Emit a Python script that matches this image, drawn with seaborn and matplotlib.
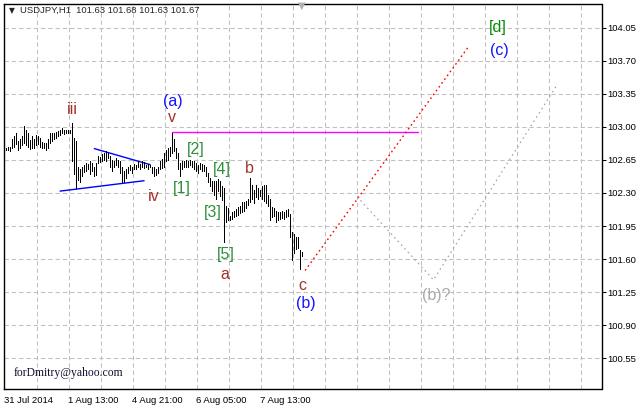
import pandas as pd
import matplotlib
matplotlib.use("Agg")
import matplotlib.pyplot as plt
import seaborn as sns

# USDJPY H1 bars (high / low)
highs = [102.78, 102.79, 102.79, 102.87, 102.90, 102.93, 102.85, 102.87, 102.90, 103.01,
         102.97, 102.93, 102.86, 102.90, 102.87, 102.91, 102.90, 102.88, 102.84, 102.83,
         102.83, 102.87, 102.94, 102.93, 102.94, 102.95, 102.96, 102.97, 102.99, 102.97,
         102.97, 102.97, 102.97, 103.04, 102.88, 102.85,
         102.57, 102.55, 102.58, 102.60, 102.62, 102.61, 102.64, 102.62, 102.58, 102.62,
         102.69, 102.68, 102.71, 102.72, 102.74, 102.72, 102.69, 102.65, 102.64, 102.67,
         102.65, 102.64, 102.58, 102.53, 102.55, 102.58, 102.60, 102.58, 102.61, 102.60,
         102.64, 102.61, 102.64, 102.63, 102.60, 102.61, 102.60, 102.57, 102.58,
         102.55, 102.58, 102.64, 102.66, 102.72, 102.76, 102.78, 102.79, 102.94, 102.87,
         102.78, 102.72, 102.62, 102.64, 102.64, 102.65, 102.64, 102.65, 102.64, 102.64,
         102.62, 102.60, 102.62, 102.61, 102.60, 102.58, 102.51, 102.46, 102.43, 102.43,
         102.43, 102.45, 102.43, 102.37, 102.35,
         102.16, 102.14,
         102.06, 102.10, 102.11, 102.13, 102.15, 102.16, 102.20, 102.21, 102.22, 102.24,
         102.46, 102.38, 102.33, 102.38, 102.35, 102.33, 102.37, 102.38, 102.38, 102.28,
         102.24, 102.15, 102.14, 102.11, 102.10, 102.10, 102.11, 102.10, 102.12, 102.13,
         102.08, 101.89, 101.87, 101.83, 101.83, 101.70, 101.68]
lows = [102.75, 102.76, 102.74, 102.78, 102.79, 102.82, 102.76, 102.78, 102.81, 102.83,
        102.81, 102.79, 102.77, 102.78, 102.78, 102.81, 102.82, 102.79, 102.78, 102.78,
        102.76, 102.78, 102.83, 102.85, 102.87, 102.88, 102.90, 102.91, 102.93, 102.92,
        102.93, 102.94, 102.93, 102.64, 102.50, 102.35,
        102.44, 102.42, 102.48, 102.52, 102.53, 102.55, 102.50, 102.53, 102.48, 102.49,
        102.62, 102.63, 102.64, 102.65, 102.64, 102.67, 102.57, 102.53, 102.57, 102.60,
        102.58, 102.51, 102.42, 102.42, 102.46, 102.51, 102.54, 102.51, 102.55, 102.55,
        102.57, 102.55, 102.58, 102.56, 102.58, 102.55, 102.57, 102.51, 102.48,
        102.49, 102.51, 102.55, 102.56, 102.58, 102.64, 102.65, 102.69, 102.72, 102.74,
        102.67, 102.55, 102.48, 102.55, 102.57, 102.58, 102.58, 102.60, 102.57, 102.55,
        102.53, 102.51, 102.55, 102.53, 102.53, 102.48, 102.42, 102.37, 102.32, 102.28,
        102.24, 102.32, 102.27, 102.23, 101.78,
        101.99, 102.01,
        102.01, 102.02, 102.05, 102.06, 102.07, 102.09, 102.10, 102.11, 102.14, 102.17,
        102.21, 102.24, 102.19, 102.26, 102.24, 102.27, 102.24, 102.22, 102.19, 102.16,
        102.01, 102.05, 102.06, 101.99, 102.01, 102.03, 102.04, 102.03, 102.05, 102.06,
        101.83, 101.59, 101.67, 101.71, 101.72, 101.50, 101.63]

price_ticks = [100.55, 100.90, 101.25, 101.60, 101.95, 102.30, 102.65, 103.00, 103.35, 103.70, 104.05]
time_ticks = [31, 63, 95, 127]
time_labels = ["1 Aug 13:00", "4 Aug 21:00", "6 Aug 05:00", "7 Aug 13:00"]
first_time_label = "31 Jul 2014"

# drawn objects (bar index, price)
level_line = {"i": [82.9, 205.9], "price": [102.95, 102.95]}
tri_upper = {"i": [44.0, 71.9], "price": [102.77, 102.60]}
tri_lower = {"i": [26.9, 68.9], "price": [102.32, 102.43]}
main_path = {"i": [149.4, 231.5], "price": [101.48, 103.86]}
alt_path = {"i": [175.4, 213.6, 274.9], "price": [102.26, 101.38, 103.43]}

# wave labels: text, bar index, price, colour
brown = "#a3302a"
blue = "#1414ff"
green = "#2f8f3a"
wave_labels = [
    ("iii", 32.9, 103.18, brown), ("(a)", 83.2, 103.27, blue), ("v", 83.0, 103.10, brown),
    ("iv", 73.9, 102.26, brown), ("[1]", 87.7, 102.35, green), ("[2]", 94.7, 102.76, green),
    ("[4]", 107.7, 102.55, green), ("[3]", 103.5, 102.09, green), ("[5]", 109.7, 101.65, green),
    ("a", 109.4, 101.44, brown), ("b", 121.5, 102.56, brown), ("c", 148.2, 101.32, brown),
    ("(b)", 149.9, 101.13, blue), ("(b)?", 215.2, 101.21, "#a8a8a8"),
    ("[d]", 246.0, 104.05, "#0a8a0a"), ("(c)", 246.4, 103.81, blue),
]

sns.set_style("white")
plt.rcParams['font.family'] = ['Liberation Sans', 'DejaVu Sans']

fig = plt.figure(figsize=(6.37, 4.05), dpi=100)
ax = fig.add_axes([4 / 637, 15.7 / 405, 597.5 / 637, 385.8 / 405])

# grid
for p in price_ticks:
    ax.axhline(p, color="#c0c0c0", lw=0.75, ls=(0, (4.2, 2.8)), zorder=0)
for k in range(18):
    ax.axvline(15.2 + 16 * k, color="#c0c0c0", lw=0.75, ls=(0, (4.2, 2.8)), zorder=0)

bars = pd.DataFrame({"i": range(len(highs)), "high": highs, "low": lows})
ax.vlines(bars["i"], bars["low"], bars["high"], color="black", lw=0.6,
          antialiased=False, zorder=3)

sns.lineplot(data=pd.DataFrame(level_line), x="i", y="price", color="#ff00ff", lw=1.0, ax=ax, zorder=2)
sns.lineplot(data=pd.DataFrame(tri_upper), x="i", y="price", color="#0000ff", lw=1.0, ax=ax, zorder=2)
sns.lineplot(data=pd.DataFrame(tri_lower), x="i", y="price", color="#0000ff", lw=1.0, ax=ax, zorder=2)
sns.lineplot(data=pd.DataFrame(main_path), x="i", y="price", sort=False, color="#ff0000",
             lw=1.0, linestyle=(0, (1.2, 2.2)), ax=ax, zorder=2)
sns.lineplot(data=pd.DataFrame(alt_path), x="i", y="price", sort=False, color="#a0a0a0",
             lw=0.9, linestyle=(0, (1.2, 2.8)), ax=ax, zorder=2)

for txt, xi, yp, col in wave_labels:
    ax.text(xi, yp, txt, color=col, fontsize=11.5, ha="center", va="center", zorder=4)

ax.set_xlim(-1.15, 297.6)
ax.set_ylim(100.222, 104.306)
ax.set_xlabel("")
ax.set_ylabel("")

ax.yaxis.tick_right()
ax.set_yticks(price_ticks)
ax.set_yticklabels([f"{p:.2f}" for p in price_ticks])
ax.set_xticks([-1.15] + time_ticks)
ax.set_xticklabels([first_time_label] + time_labels, ha="left")
ax.tick_params(axis="y", direction="out", length=3, width=0.75, pad=1.5,
               labelsize=6.8, colors="black")
ax.tick_params(axis="x", direction="out", length=3, width=0.75, pad=1.5,
               labelsize=6.8, colors="black")
for s in ax.spines.values():
    s.set_color("black")
    s.set_linewidth(1.0)

# header and watermark
fig.text(11.7 / 637, 1 - 10.7 / 405, "\u25bc", fontsize=5.5, ha="center", va="center",
         family="DejaVu Sans")
fig.text(20 / 637, 1 - 10.7 / 405, "USDJPY,H1  101.63 101.68 101.63 101.67", fontsize=6.8,
         ha="left", va="center")
fig.text(302 / 637, 1 - 5.5 / 405, "\u25bc", fontsize=7, color="#b0b0b0", ha="center",
         va="center", family="DejaVu Sans")
fig.text(13.3 / 637, 1 - 373.3 / 405, "forDmitry@yahoo.com", fontsize=8.4, ha="left",
         va="center", family="Liberation Serif", color="#101030")

fig.savefig("out.png", dpi=100)
